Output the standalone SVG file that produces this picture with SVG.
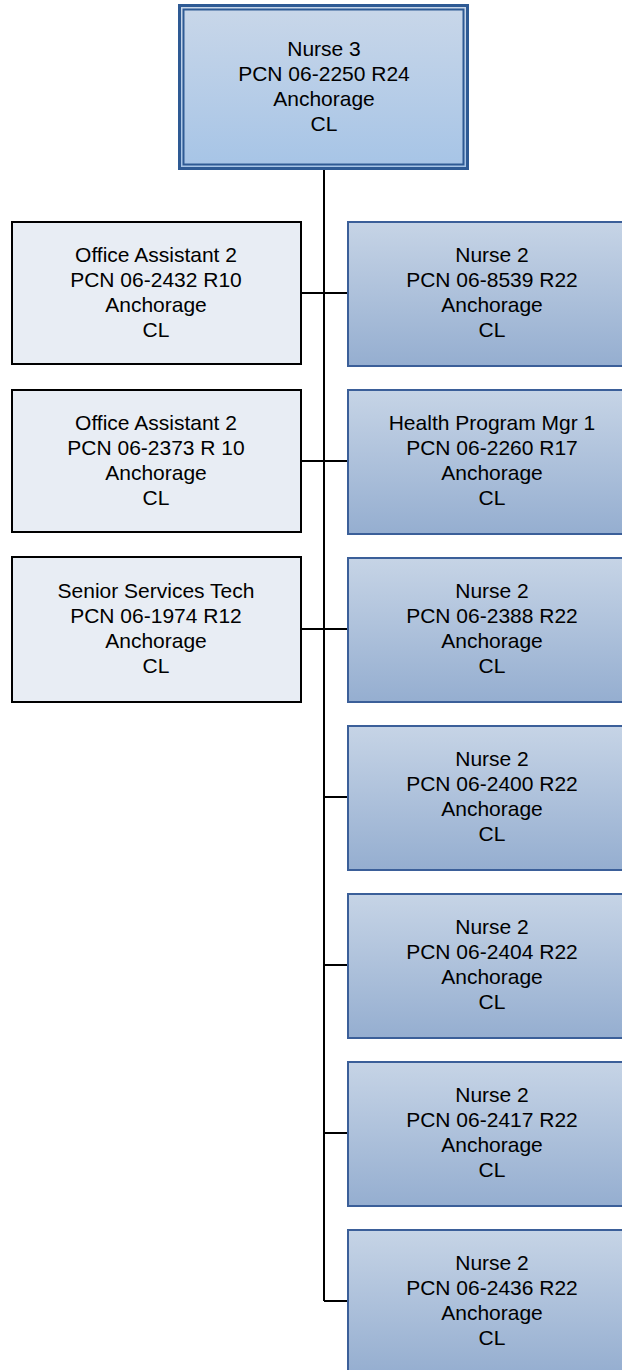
<svg xmlns="http://www.w3.org/2000/svg" width="622" height="1370" viewBox="0 0 622 1370">
<style>
text{font-family:"Liberation Sans",Arial,sans-serif;font-size:21px;fill:#000;text-anchor:middle}
.l{fill:#e8edf4;stroke:#000;stroke-width:2}
.r{fill:url(#gr);stroke:#3b5f99;stroke-width:2}
.c{stroke:#000;stroke-width:2;fill:none}
</style>
<defs>
<linearGradient id="gr" x1="0" y1="0" x2="0" y2="1"><stop offset="0" stop-color="#c6d4e6"/><stop offset="1" stop-color="#95aed0"/></linearGradient>
<linearGradient id="gt" x1="0" y1="0" x2="0" y2="1"><stop offset="0" stop-color="#c9d7e9"/><stop offset="1" stop-color="#a6c4e6"/></linearGradient>
</defs>
<g id="connectors">
<path class="c" d="M324 170V1301"/>
<path class="c" d="M301 293H348M301 461H348M301 629H348M324 797H348M324 965H348M324 1133H348M324 1301H348"/>
</g>
<g id="n0">
<rect x="179.5" y="5.5" width="288" height="163" fill="url(#gt)" stroke="#2e5a94" stroke-width="3"/>
<rect x="183.5" y="9.5" width="280" height="155" fill="none" stroke="#2e5a94" stroke-width="2"/>
<text x="324" y="55.5">Nurse 3</text><text x="324" y="80.5">PCN 06-2250 R24</text><text x="324" y="105.5">Anchorage</text><text x="324" y="130.5">CL</text>
</g>
<g id="l1"><rect class="l" x="12" y="222" width="289" height="142"/>
<text x="156" y="261.5">Office Assistant 2</text><text x="156" y="286.5">PCN 06-2432 R10</text><text x="156" y="311.5">Anchorage</text><text x="156" y="336.5">CL</text></g>
<g id="l2"><rect class="l" x="12" y="390" width="289" height="142"/>
<text x="156" y="429.5">Office Assistant 2</text><text x="156" y="454.5">PCN 06-2373 R 10</text><text x="156" y="479.5">Anchorage</text><text x="156" y="504.5">CL</text></g>
<g id="l3"><rect class="l" x="12" y="557" width="289" height="145"/>
<text x="156" y="598">Senior Services Tech</text><text x="156" y="623">PCN 06-1974 R12</text><text x="156" y="648">Anchorage</text><text x="156" y="673">CL</text></g>
<g id="r1"><rect class="r" x="348" y="222" width="290" height="144"/>
<text x="492" y="262">Nurse 2</text><text x="492" y="287">PCN 06-8539 R22</text><text x="492" y="312">Anchorage</text><text x="492" y="337">CL</text></g>
<g id="r2"><rect class="r" x="348" y="390" width="290" height="144"/>
<text x="492" y="430">Health Program Mgr 1</text><text x="492" y="455">PCN 06-2260 R17</text><text x="492" y="480">Anchorage</text><text x="492" y="505">CL</text></g>
<g id="r3"><rect class="r" x="348" y="558" width="290" height="144"/>
<text x="492" y="598">Nurse 2</text><text x="492" y="623">PCN 06-2388 R22</text><text x="492" y="648">Anchorage</text><text x="492" y="673">CL</text></g>
<g id="r4"><rect class="r" x="348" y="726" width="290" height="144"/>
<text x="492" y="766">Nurse 2</text><text x="492" y="791">PCN 06-2400 R22</text><text x="492" y="816">Anchorage</text><text x="492" y="841">CL</text></g>
<g id="r5"><rect class="r" x="348" y="894" width="290" height="144"/>
<text x="492" y="934">Nurse 2</text><text x="492" y="959">PCN 06-2404 R22</text><text x="492" y="984">Anchorage</text><text x="492" y="1009">CL</text></g>
<g id="r6"><rect class="r" x="348" y="1062" width="290" height="144"/>
<text x="492" y="1102">Nurse 2</text><text x="492" y="1127">PCN 06-2417 R22</text><text x="492" y="1152">Anchorage</text><text x="492" y="1177">CL</text></g>
<g id="r7"><rect class="r" x="348" y="1230" width="290" height="144"/>
<text x="492" y="1270">Nurse 2</text><text x="492" y="1295">PCN 06-2436 R22</text><text x="492" y="1320">Anchorage</text><text x="492" y="1345">CL</text></g>
</svg>
